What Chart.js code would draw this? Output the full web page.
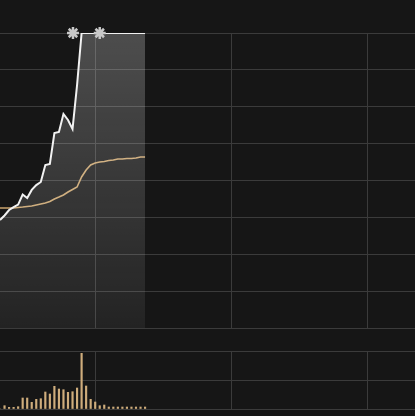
<!DOCTYPE html>
<html>
<head>
<meta charset="utf-8">
<script src="https://cdn.jsdelivr.net/npm/chart.js@4/dist/chart.umd.min.js"></script>
<style>
  html, body { margin: 0; padding: 0; background: #161616; overflow: hidden; }
  #wrap { position: relative; width: 415px; height: 416px; }
  canvas { position: absolute; left: 0; }
  #price-chart { top: 0; }
  #volume-chart { top: 340px; }
</style>
</head>
<body>
<div id="wrap">
  <canvas id="price-chart" width="415" height="340"></canvas>
  <canvas id="volume-chart" width="415" height="76"></canvas>
</div>
<script>
// minutes since the open (one point per minute)
var minutes = [0, 1, 2, 3, 4, 5, 6, 7, 8, 9, 10, 11, 12, 13, 14, 15, 16,
               17, 18, 19, 20, 21, 22, 23, 24, 25, 26, 27, 28, 29, 30, 31, 32];

// price change % vs previous close
var priceChg = [-2.68, -2.37, -2.00, -1.80, -1.63, -0.95, -1.19, -0.64, -0.31, -0.10,
                1.05, 1.12, 3.22, 3.29, 4.51, 4.10, 3.49, 6.47, 10.00, 10.00,
                10.00, 10.00, 10.00, 10.00, 10.00, 10.00, 10.00, 10.00, 10.00, 10.00,
                10.00, 10.00, 10.00];

// average price change %
var avgChg = [-1.86, -1.86, -1.86, -1.86, -1.83, -1.80, -1.76, -1.73, -1.66, -1.59,
              -1.53, -1.42, -1.25, -1.12, -0.98, -0.78, -0.61, -0.44, 0.24, 0.71,
              1.05, 1.19, 1.25, 1.29, 1.36, 1.39, 1.46, 1.46, 1.49, 1.49,
              1.53, 1.59, 1.59];

// volume (lots)
var volume = [0, 330, 170, 170, 230, 1100, 1100, 670, 970, 1030,
              1700, 1500, 2270, 2000, 1930, 1670, 1730, 2100, 5570, 2300,
              970, 700, 330, 400, 200, 200, 200, 200, 200, 200,
              200, 200, 200];

// big order markers
var markerMinutes = [16.1, 22];
var markerChg = [10, 10];

// grid
var gridMinutes = [21, 51, 81];
var xMax = 91.55;
var priceTicks = [-10, -7.5, -5, -2.5, 0, 2.5, 5, 7.5, 10];
var volumeTicks = [0, 2900, 5800];

(function() {
	'use strict';

	var GRID = '#3b3b3b';

	function pts(ys) {
		return minutes.map(function(m, i) { return { x: m, y: ys[i] }; });
	}

	function xAxis() {
		return {
			type: 'linear', min: 0, max: xMax,
			offset: false,
			afterBuildTicks: function(s) { s.ticks = gridMinutes.map(function(v) { return { value: v }; }); },
			afterFit: function(s) { s.height = 0; },
			ticks: { display: false },
			grid: { color: GRID, drawTicks: false, offset: false },
			border: { display: false }
		};
	}

	function yAxis(ticks) {
		return {
			min: ticks[0], max: ticks[ticks.length - 1],
			afterBuildTicks: function(s) { s.ticks = ticks.map(function(v) { return { value: v }; }); },
			afterFit: function(s) { s.width = 0; },
			ticks: { display: false },
			grid: { color: GRID, drawTicks: false },
			border: { display: false }
		};
	}

	// price + average
	new Chart(document.getElementById('price-chart'), {
		type: 'line',
		data: {
			datasets: [
				{
					type: 'scatter',
					data: markerMinutes.map(function(m, i) { return { x: m, y: markerChg[i] }; }),
					pointStyle: 'star',
					pointRadius: 6,
					borderColor: '#c8c8c8',
					borderWidth: 2.5,
					clip: false
				},
				{
					data: pts(priceChg),
					borderColor: '#f2f2f2',
					borderWidth: 2,
					pointRadius: 0,
					tension: 0,
					fill: 'start',
					backgroundColor: function(ctx) {
						var a = ctx.chart.chartArea;
						if (!a) return 'rgba(255,255,255,0.1)';
						var g = ctx.chart.ctx.createLinearGradient(0, a.top, 0, a.bottom);
						g.addColorStop(0, 'rgba(255,255,255,0.24)');
						g.addColorStop(1, 'rgba(255,255,255,0.06)');
						return g;
					}
				},
				{
					data: pts(avgChg),
					borderColor: '#c9a36c',
					borderWidth: 1.6,
					pointRadius: 0,
					tension: 0,
					fill: false
				}
			]
		},
		options: {
			responsive: false,
			animation: false,
			devicePixelRatio: 1,
			layout: { autoPadding: false, padding: { top: 33, bottom: 12, left: 0, right: 0 } },
			plugins: { legend: { display: false }, tooltip: { enabled: false } },
			scales: { x: xAxis(), y: yAxis(priceTicks) }
		}
	});

	// volume bars
	new Chart(document.getElementById('volume-chart'), {
		type: 'bar',
		data: {
			datasets: [{
				data: pts(volume),
				backgroundColor: '#cfad7c',
				barThickness: 1.5
			}]
		},
		options: {
			responsive: false,
			animation: false,
			devicePixelRatio: 1,
			layout: { autoPadding: false, padding: { top: 11, bottom: 7, left: 0, right: 0 } },
			plugins: { legend: { display: false }, tooltip: { enabled: false } },
			scales: { x: xAxis(), y: yAxis(volumeTicks) }
		}
	});

})();
</script>
</body>
</html>
